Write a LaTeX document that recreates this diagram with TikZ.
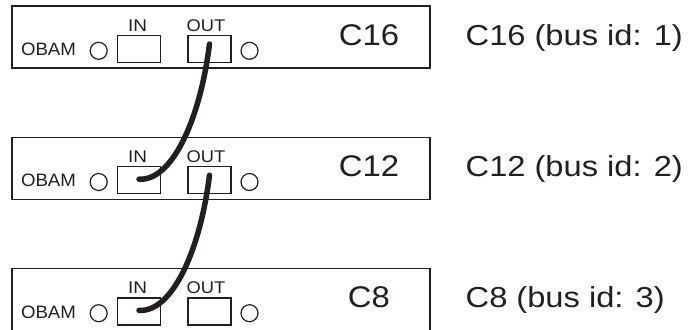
\documentclass[tikz,border=0pt]{standalone}
\usepackage{fontspec}
\setmainfont{Liberation Sans}
\definecolor{ink}{HTML}{231F20}
\newcommand{\wide}[2]{\scalebox{#1}[1]{#2}}
\tikzset{
  panel/.style={draw=ink, line width=1.2bp, rectangle, minimum width=418bp, minimum height=62bp, inner sep=0pt, outer sep=0pt, anchor=north west},
  port/.style={draw=ink, line width=1.2bp, rectangle, minimum width=43bp, minimum height=27bp, inner sep=0pt, outer sep=0pt},
  led/.style={draw=ink, line width=1.2bp, circle, minimum size=17bp, inner sep=0pt, outer sep=0pt},
  small/.style={text=ink, inner sep=0pt, anchor=base, font=\fontsize{17}{17}\selectfont},
  obam/.style={text=ink, inner sep=0pt, anchor=base, font=\fontsize{18}{18}\selectfont},
  big/.style={text=ink, inner sep=0pt, anchor=base, font=\fontsize{30}{30}\selectfont},
  side/.style={text=ink, inner sep=0pt, anchor=base west, font=\fontsize{29}{29}\selectfont},
  cable/.style={draw=ink, line width=5.5bp, line cap=round}
}
\begin{document}
\begin{tikzpicture}[x=1bp, y=-1bp]
\useasboundingbox (0,0) rectangle (691,329);
\clip (0,0) rectangle (691,329);
\foreach \i/\t/\nm/\lab in {1/6/C16/1, 2/137.2/C12/2, 3/268.4/C8/3}{
  \node[panel] (p\i) at (12,\t) {};
  \node[obam] (ob\i) at (48.5,\t+49.7) {\wide{1.04}{OBAM}};
  \node[led] (la\i) at (98.7,\t+44.8) {};
  \node[port] (in\i) at (139,\t+43) {};
  \node[port] (out\i) at (209.5,\t+43) {};
  \node[led] (lb\i) at (249.5,\t+44.8) {};
  \node[small] (il\i) at (137.5,\t+25) {\wide{1.12}{IN}};
  \node[small] (ol\i) at (206,\t+25) {\wide{1.08}{OUT}};
  \node[big] (nm\i) at (369,\t+39.5) {\wide{1.1}{\nm}};
  \node[side] (sd\i) at (465.5,\t+39.5) {\wide{1.13}{\nm\ (bus id: \lab)}};
}
\draw[cable] ([yshift=5bp]out1.center) .. controls +(-9.5,76) and +(33,2) .. ([yshift=1bp]in2.center);
\draw[cable] ([yshift=5bp]out2.center) .. controls +(-9.5,76) and +(33,2) .. ([yshift=1bp]in3.center);
\end{tikzpicture}
\end{document}
